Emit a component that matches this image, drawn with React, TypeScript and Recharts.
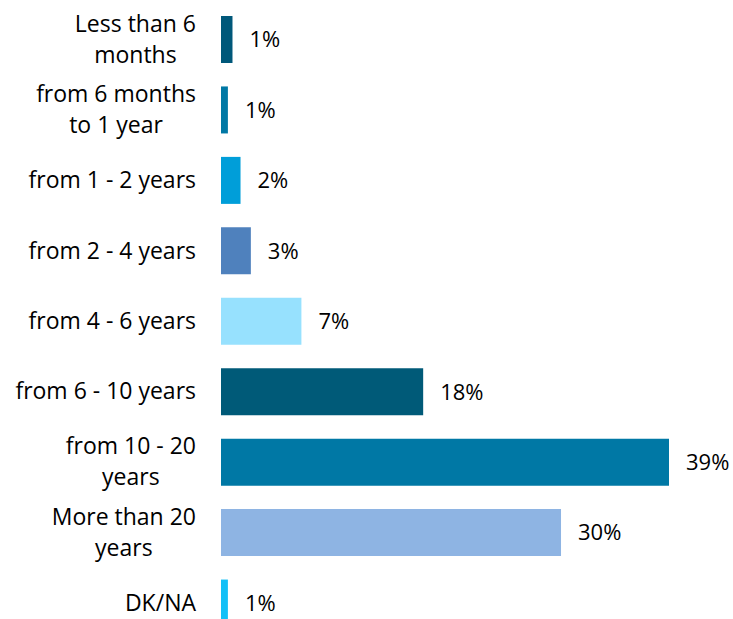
import React from 'react';
import { BarChart, Bar, XAxis, YAxis, Cell, LabelList } from 'recharts';

const categories = [
  'Less than 6\nmonths',
  'from 6 months\nto 1 year',
  'from 1 - 2 years',
  'from 2 - 4 years',
  'from 4 - 6 years',
  'from 6 - 10 years',
  'from 10 - 20\nyears',
  'More than 20\nyears',
  'DK/NA',
];
// the labels show them rounded
const shares = [1.0, 0.6, 1.7, 2.6, 7.0, 17.6, 39.0, 29.6, 0.6];
const barColors = [
  '#00587a', '#0078a5', '#009ed9', '#4f81bd', '#97e1fe',
  '#005a78', '#0078a5', '#8eb4e3', '#14c0f7',
];

const data = categories.map((name, i) => ({ name, value: shares[i] }));

const FONT = '"Open Sans", sans-serif';
const TICK_SIZE = 23;

let ctx: CanvasRenderingContext2D | null = null;
const textWidth = (s: string) => {
  if (!ctx) ctx = document.createElement('canvas').getContext('2d');
  if (!ctx) return s.length * TICK_SIZE * 0.5;
  ctx.font = `${TICK_SIZE}px "Open Sans"`;
  return ctx.measureText(s).width;
};

// wrapped labels: lines centred on each other, block right-aligned to the axis
const CategoryTick = (props: any) => {
  const { x, y, payload } = props;
  const lines: string[] = String(payload.value).split('\n');
  const lineH = 31;
  const startY = y - ((lines.length - 1) * lineH) / 2;
  const maxW = Math.max(...lines.map(textWidth));
  const cx = x - maxW / 2;
  return (
    <text x={cx} y={startY} textAnchor="middle" fontSize={TICK_SIZE} fontFamily={FONT} fill="#000">
      {lines.map((l, i) => (
        <tspan key={i} x={cx} y={startY + i * lineH} dy="0.35em">
          {l}
        </tspan>
      ))}
    </text>
  );
};

export default function App() {
  return (
    <div style={{ position: 'absolute', left: 0, top: 0, width: 733, height: 619, overflow: 'hidden', background: '#fff' }}>
      <BarChart
        width={733}
        height={638}
        data={data}
        layout="vertical"
        margin={{ top: 4, right: 64, bottom: 0, left: 0 }}
      >
        <XAxis type="number" domain={[0, 39]} hide />
        <YAxis
          type="category"
          dataKey="name"
          width={221}
          axisLine={false}
          tickLine={false}
          tickMargin={19}
          tick={<CategoryTick />}
          interval={0}
        />
        <Bar dataKey="value" barSize={47} isAnimationActive={false}>
          {data.map((d, i) => (
            <Cell key={d.name} fill={barColors[i]} />
          ))}
          <LabelList
            dataKey="value"
            position="right"
            offset={17}
            formatter={(v: any) => `${Math.round(Number(v))}%`}
            style={{ fontSize: 22, fontFamily: FONT, fill: '#000' }}
          />
        </Bar>
      </BarChart>
    </div>
  );
}
